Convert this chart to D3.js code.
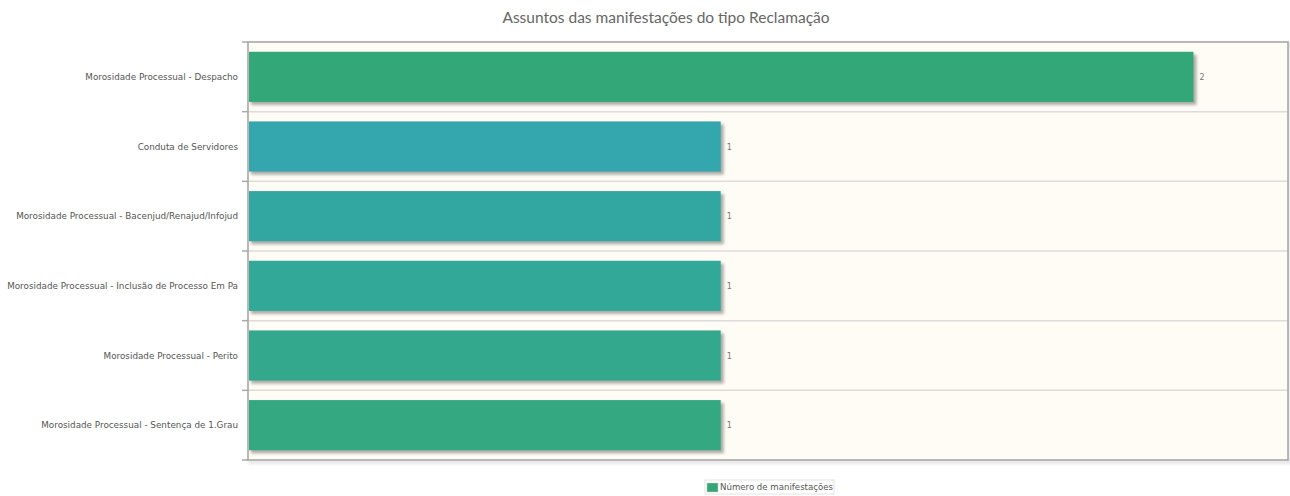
<!DOCTYPE html>
<html><head><meta charset="utf-8">
<script src="https://cdn.jsdelivr.net/npm/d3@7/dist/d3.min.js"></script>
<style>
html,body{margin:0;padding:0;background:#fff;}
svg{display:block;}
</style></head>
<body>
<svg id="chart" width="1290" height="496"></svg>
<script>
const title = "Assuntos das manifestações do tipo Reclamação";
const categories = [
  "Morosidade Processual - Despacho",
  "Conduta de Servidores",
  "Morosidade Processual - Bacenjud/Renajud/Infojud",
  "Morosidade Processual - Inclusão de Processo Em Pa",
  "Morosidade Processual - Perito",
  "Morosidade Processual - Sentença de 1.Grau"
];
const values = [2, 1, 1, 1, 1, 1];
const barColors = ["#34a779", "#33a6ae", "#32a7a2", "#32a898", "#33a88c", "#34a880"];
const seriesName = "Número de manifestações";
const xMax = 2.2;

const svg = d3.select("#chart");
const W = 1290, H = 496;
const m = {left: 248, right: 2, top: 42, bottom: 36};
const pw = W - m.left - m.right, ph = H - m.top - m.bottom;

const defs = svg.append("defs");
const f = defs.append("filter").attr("id","sh").attr("x","-5%").attr("y","-20%").attr("width","110%").attr("height","150%");
f.append("feGaussianBlur").attr("stdDeviation",1.4);
defs.append("clipPath").attr("id","lc").append("rect").attr("x",7).attr("y",0).attr("width",240).attr("height",H);

const x = d3.scaleLinear().domain([0, xMax]).range([m.left, m.left + pw]);
const y = d3.scaleBand().domain(categories).range([m.top, m.top + ph]).padding(0);
const barH = y.bandwidth() * 0.72;

// title
svg.append("text").attr("x", 666).attr("y", 23).attr("text-anchor","middle")
  .attr("font-family","Lato, 'Open Sans', sans-serif").attr("font-size",15.5).attr("fill","#666").text(title);

// plot border shadow
svg.append("rect").attr("x", m.left+2).attr("y", m.top+2).attr("width", pw).attr("height", ph)
  .attr("fill","none").attr("stroke","rgba(0,0,0,0.12)").attr("stroke-width",3).attr("filter","url(#sh)");
// background
svg.append("rect").attr("x", m.left).attr("y", m.top).attr("width", pw).attr("height", ph)
  .attr("fill","#fffcf5");

// grid lines at band boundaries
const bounds = categories.slice(1).map(c => y(c));
svg.append("g").selectAll("line").data(bounds).join("line")
  .attr("x1", m.left).attr("x2", m.left + pw).attr("y1", d => d).attr("y2", d => d)
  .attr("stroke","#dcdcdc").attr("stroke-width",1.5);

// left ticks
const tickYs = [m.top, ...bounds, m.top + ph];
svg.append("g").selectAll("line").data(tickYs).join("line")
  .attr("x1", m.left - 6).attr("x2", m.left).attr("y1", d => d).attr("y2", d => d)
  .attr("stroke","#aaa").attr("stroke-width",1.5);

// border
svg.append("rect").attr("x", m.left).attr("y", m.top).attr("width", pw).attr("height", ph)
  .attr("fill","none").attr("stroke","#a8a8a8").attr("stroke-width",1.6);

// bars shadows
const bars = categories.map((c,i) => ({c, v: values[i], col: barColors[i]}));
svg.append("g").selectAll("rect").data(bars).join("rect")
  .attr("x", x(0) + 3).attr("y", d => y(d.c) + (y.bandwidth()-barH)/2 + 3)
  .attr("width", d => x(d.v) - x(0)).attr("height", barH)
  .attr("fill","rgba(0,0,0,0.32)").attr("filter","url(#sh)");
// bars
svg.append("g").selectAll("rect").data(bars).join("rect")
  .attr("x", x(0) + 1).attr("y", d => y(d.c) + (y.bandwidth()-barH)/2)
  .attr("width", d => x(d.v) - x(0) - 1).attr("height", barH)
  .attr("fill", d => d.col);

// value labels
svg.append("g").selectAll("text").data(bars).join("text")
  .attr("x", d => x(d.v) + 6).attr("y", d => y(d.c) + y.bandwidth()/2 + 3)
  .attr("font-family","'DejaVu Sans', sans-serif").attr("font-size",8).attr("fill","#777")
  .text(d => d.v);

// category labels
svg.append("g").attr("clip-path","url(#lc)").selectAll("text").data(categories).join("text")
  .attr("x", m.left - 10).attr("y", d => y(d) + y.bandwidth()/2 + 3)
  .attr("text-anchor","end")
  .attr("font-family","'DejaVu Sans', sans-serif").attr("font-size",8.8).attr("fill","#555")
  .text(d => d);

// legend
const lg = svg.append("g").attr("transform","translate(705,480)");
lg.append("rect").attr("x",0).attr("y",0).attr("width",129).attr("height",14)
  .attr("fill","#fff").attr("stroke","#e4e4e4");
lg.append("rect").attr("x",2).attr("y",3).attr("width",11).attr("height",9).attr("fill",barColors[0])
  .attr("stroke","#ccc").attr("stroke-width",0.5);
lg.append("text").attr("x",15).attr("y",10).attr("font-family","'DejaVu Sans', sans-serif")
  .attr("font-size",8.6).attr("fill","#555").text(seriesName);
</script>
</body></html>
